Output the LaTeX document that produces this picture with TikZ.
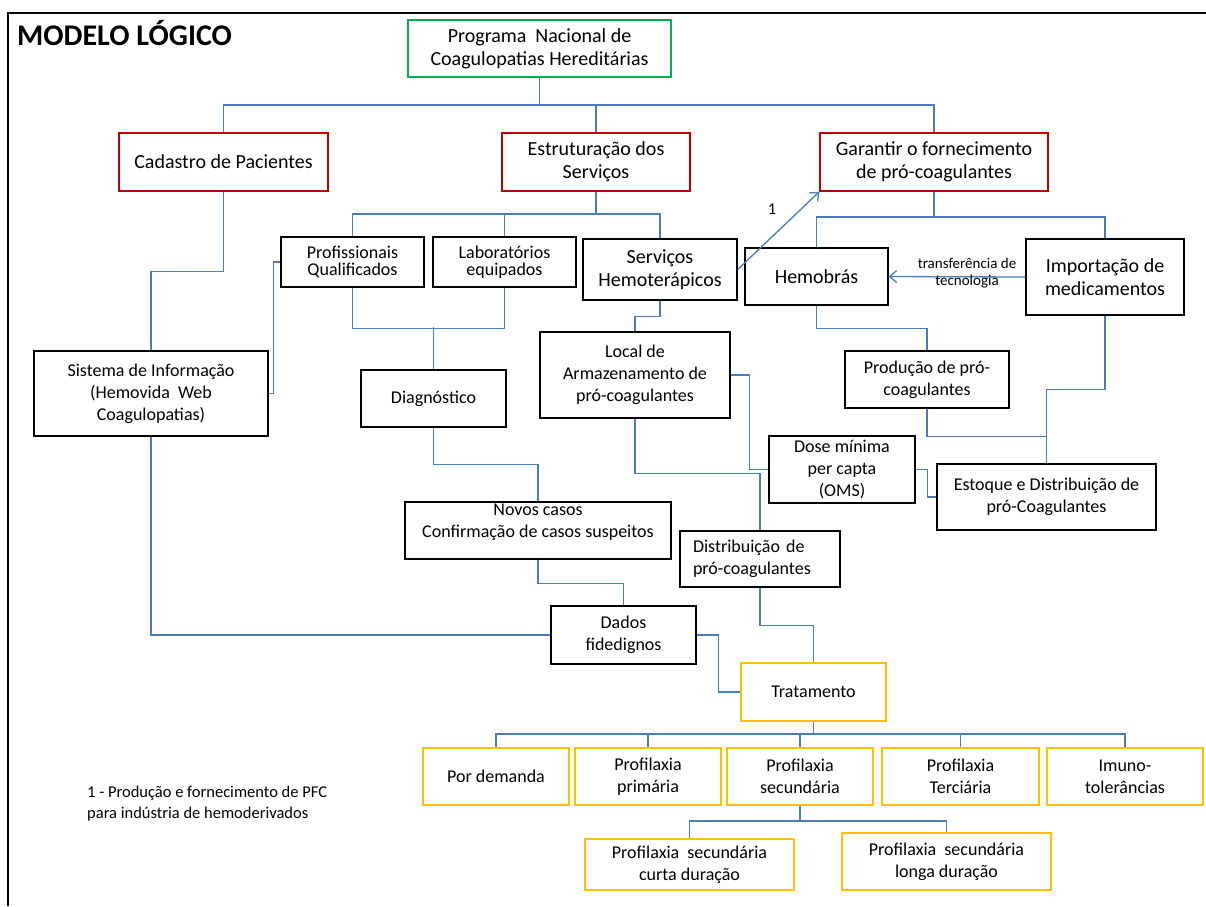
\documentclass[tikz,border=0pt]{standalone}
\usepackage{fontspec}
\setmainfont{Carlito}
\usetikzlibrary{arrows.meta}
\usetikzlibrary{positioning}

\definecolor{linkblue}{HTML}{4A7EBB}
\definecolor{boxgreen}{HTML}{00B050}
\definecolor{boxred}{HTML}{C00000}
\definecolor{boxyellow}{HTML}{FFC000}

\begin{document}
\begin{tikzpicture}[x=1pt,y=-1pt,>={Straight Barb[length=7pt,width=12pt]},
    box/.style={draw,line width=1.4pt,align=center,inner sep=1pt,font=\fontsize{18}{22}\selectfont},
    wh/.style 2 args={minimum width=#1pt,minimum height=#2pt},
    big/.style={font=\fontsize{20}{23}\selectfont},
    goal/.style={box,big,draw=boxred},
    care/.style={box,draw=boxyellow},
    link/.style={draw=linkblue,line width=1.3pt}]
    \useasboundingbox (0,0) rectangle (1206,906);
    \draw[line width=2.2pt] (8,906) -- (8,13) -- (1206,13);

    \node[font=\fontsize{30}{35}\selectfont\bfseries,anchor=base west,inner sep=0pt] (titulo) at (17,45) {MODELO LÓGICO};

    % top levels
    \node[box,big,draw=boxgreen,wh={263}{57}] (programa) at (539.5,48.5) {Programa~ Nacional de\\Coagulopatias Hereditárias};
    \node[goal,wh={209}{58}] (cadastro) at (223.5,162) {Cadastro de Pacientes};
    \node[goal,wh={188}{58}] (estrutura) at (596,162) {Estruturação dos\\Serviços};
    \node[goal,wh={228}{58}] (garantir) at (934,162) {Garantir o fornecimento\\de pró-coagulantes};

    \node[box,font=\fontsize{18}{17}\selectfont,wh={143}{50}] (profissionais) at (352.5,262) {Profissionais\\Qualificados};
    \node[box,font=\fontsize{18}{17}\selectfont,wh={143}{50}] (laboratorios) at (504.5,262) {Laboratórios\\equipados};
    \node[box,big,wh={154}{61}] (servicos) at (660,269.5) {Serviços\\Hemoterápicos};
    \node[box,big,wh={143}{57}] (hemobras) at (816.5,276.5) {Hemobrás};
    \node[box,big,wh={158}{76}] (importacao) at (1105,277) {Importação de\\medicamentos};

    \node[box,wh={234}{85}] (sistema) at (151,393.5) {Sistema de Informação\\(Hemovida~ Web\\Coagulopatias)};
    \node[box,wh={145}{57}] (diagnostico) at (433.5,398.5) {Diagnóstico};
    \node[box,wh={190}{86}] (local) at (635,375) {Local de\\Armazenamento de\\pró-coagulantes};
    \node[box,wh={164}{57}] (producao) at (927,379.5) {Produção de pró-\\coagulantes};
    \node[box,inner sep=0pt,wh={146}{67}] (dose) at (842,469.5) {Dose mínima\\per capta\\(OMS)};
    \node[box,wh={219}{66}] (estoque) at (1046.5,497) {Estoque e Distribuição de\\pró-Coagulantes};
    \node[box,wh={266}{57}] (novos) at (538,530.5) {\raisebox{8pt}[\height][\depth]{\begin{tabular}{@{}c@{}}Novos casos\\Confirmação de casos suspeitos\end{tabular}}};
    \node[box,align=left,text width=134pt,inner xsep=13pt,wh={160}{56}] (distribuicao) at (760,559) {Distribuição de\\pró-coagulantes};
    \node[box,wh={145}{58}] (dados) at (623.5,635) {Dados\\fidedignos};

    % tratamento
    \node[care,wh={145}{58}] (tratamento) at (813.5,692) {Tratamento};
    \node[care,wh={146}{57}] (demanda) at (496,776.5) {Por demanda};
    \node[care,wh={146}{57}] (primaria) at (648,776.5) {Profilaxia\\primária};
    \node[care,wh={146}{57}] (secundaria) at (800,776.5) {Profilaxia\\secundária};
    \node[care,wh={157}{57}] (terciaria) at (960.5,776.5) {Profilaxia\\Terciária};
    \node[care,wh={156}{57}] (imuno) at (1125,776.5) {Imuno-\\tolerâncias};
    \node[care,wh={209}{51}] (curta) at (689.5,864.5) {Profilaxia~ secundária\\curta duração};
    \node[care,wh={209}{57}] (longa) at (946.5,861.5) {Profilaxia~ secundária\\longa duração};

    \node[font=\fontsize{16.5}{20.5}\selectfont,align=left,anchor=west,inner sep=0pt] (nota) at (87,803.5) {1 - Produção e fornecimento de PFC\\para indústria de hemoderivados};

    % connectors
    \draw[link] (programa.south) -- (programa.south |- 0,105);
    \draw[link] (cadastro.north) |- (garantir.north |- 0,105) -- (garantir.north);
    \draw[link] (estrutura.north) -- (estrutura.north |- 0,105);

    \draw[link] (estrutura.south) -- (estrutura.south |- 0,214);
    \draw[link] (profissionais.north) |- (servicos.north |- 0,214) -- (servicos.north);
    \draw[link] (laboratorios.north) -- (laboratorios.north |- 0,214);

    \draw[link] (garantir.south) -- (garantir.south |- 0,217);
    \draw[link] (hemobras.north) |- (importacao.north |- 0,217) -- (importacao.north);

    \draw[link] (cadastro.south) -- ++(0,80) -| (sistema.north);
    \draw[link] (profissionais.west) -- ++(-7,0) |- (sistema.east);
    \draw[link] (profissionais.south) -- ++(0,41) -| (laboratorios.south);
    \draw[link] (diagnostico.north) -- ++(0,-42);
    \draw[link] (diagnostico.south) -- ++(0,37) -| (novos.north);
    \draw[link] (novos.south) -- ++(0,24) -| (dados.north);
    \draw[link] (sistema.south) |- (dados.west);
    \draw[link] (dados.east) -- ++(22,0) |- (tratamento.west);

    \draw[link] (servicos.south) -- ++(0,16) -| (local.north);
    \draw[link] (local.south) -- ++(0,55) -| (distribuicao.north);
    \draw[link] (local.east) -- ++(19,0) |- (dose.west);
    \draw[link] (dose.east) -- ++(12,0) |- (estoque.west);
    \draw[link] (distribuicao.south) -- ++(0,38) -| (tratamento.north);

    \draw[link] (hemobras.south) -- ++(0,23) -| (producao.north);
    \draw[link] (producao.south) -- ++(0,28) -| (estoque.north);
    \draw[link] (importacao.south) -- ++(0,74) -| (estoque.north);

    \draw[link,->] (servicos.east) -- (garantir.south west);
    \node[font=\fontsize{16.5}{20}\selectfont,inner sep=0pt] (um) at (772,209) {1};
    \draw[link,->] (importacao.west) -- (hemobras.east);
    \node[font=\fontsize{15}{17}\selectfont,align=center,inner sep=0pt] (transferencia) at (967,273) {transferência de\\tecnologia};

    \draw[link] (tratamento.south) -- (tratamento.south |- 0,734);
    \draw[link] (demanda.north) |- (imuno.north |- 0,734) -- (imuno.north);
    \draw[link] (primaria.north) -- (primaria.north |- 0,734);
    \draw[link] (secundaria.north) -- (secundaria.north |- 0,734);
    \draw[link] (terciaria.north) -- (terciaria.north |- 0,734);

    \draw[link] (secundaria.south) -- (secundaria.south |- 0,821);
    \draw[link] (curta.north) |- (longa.north |- 0,821) -- (longa.north);
\end{tikzpicture}
\end{document}
